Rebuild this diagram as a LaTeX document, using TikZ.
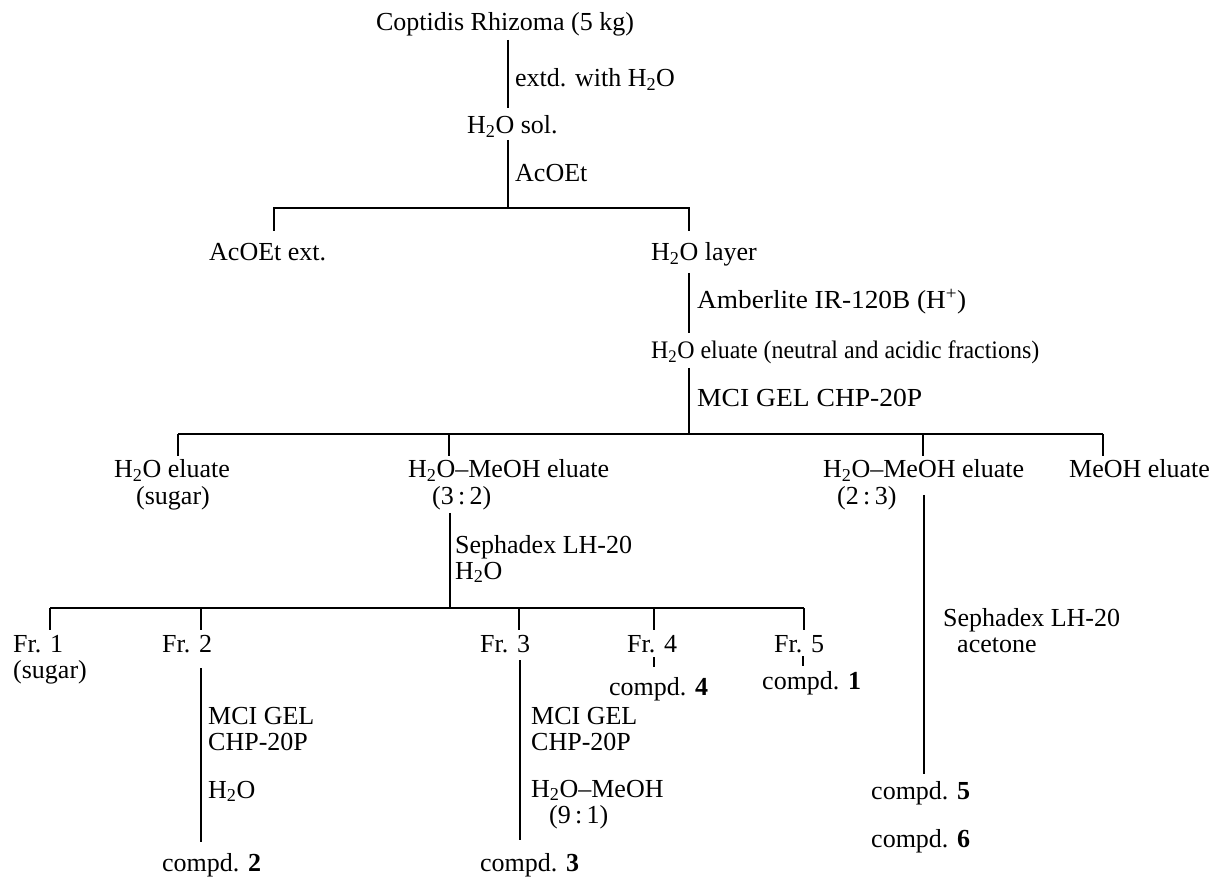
\documentclass[tikz,border=0pt]{standalone}
\usepackage{fontspec}
\setmainfont{Liberation Serif}
\newcommand{\wat}{H\textsubscript{2}O}
\begin{document}
\begin{tikzpicture}[x=1pt,y=-1pt,
  lbl/.style={inner sep=0pt, anchor=base west, font=\fontsize{26}{26}\selectfont},
  clbl/.style={inner sep=0pt, anchor=base, font=\fontsize{26}{26}\selectfont},
  ln/.style={line width=1.1pt}]
\useasboundingbox (0,0) rectangle (1219,882);

% ---- text nodes ----
\node[clbl] (top) at (505,31) {Coptidis Rhizoma (5 kg)};
\node[lbl] (l1) at (515,87) {extd. with \wat};
\node[lbl] (sol) at (467,134) {\wat{} sol.};
\node[lbl] (l2) at (515,182) {AcOEt};
\node[lbl] (acx) at (209,261) {AcOEt ext.};
\node[lbl] (layer) at (651,261) {\wat{} layer};
\node[lbl] (l3) at (697,309) {\scalebox{1.05}[1]{Amberlite IR-120B (H\textsuperscript{+})}};
\node[lbl] (elu) at (651,359) {\scalebox{0.92}[0.97]{\wat{} eluate (neutral and acidic fractions)}};
\node[lbl] (l4) at (697,407) {\scalebox{1.06}[1]{MCI GEL CHP-20P}};

\node[clbl] (e1a) at (172,478) {\wat{} eluate};
\node[clbl] (e1b) at (173,505) {(sugar)};
\node[lbl] (e2a) at (408,478) {\wat{}--MeOH eluate};
\node[lbl] (e2b) at (432,505) {(3\,:\,2)};
\node[lbl] (e3a) at (823,478) {\wat{}--MeOH eluate};
\node[lbl] (e3b) at (837,504) {(2\,:\,3)};
\node[lbl] (e4) at (1069,478) {MeOH eluate};

\node[lbl] (l5a) at (455,553) {Sephadex LH-20};
\node[lbl] (l5b) at (455,579) {\wat};

\node[lbl] (r1a) at (943,626) {Sephadex LH-20};
\node[lbl] (r1b) at (957,652) {acetone};

\node[lbl] (f1a) at (13,652) {Fr. 1};
\node[lbl] (f1b) at (13,678) {(sugar)};
\node[lbl] (f2) at (162,652) {Fr. 2};
\node[lbl] (f3) at (480,652) {Fr. 3};
\node[lbl] (f4) at (627,652) {Fr. 4};
\node[lbl] (f5) at (774,652) {Fr. 5};
\node[lbl] (c4) at (609,695) {compd. \textbf{4}};
\node[lbl] (c1) at (762,689) {compd. \textbf{1}};

\node[lbl] (m2a) at (208,724) {MCI GEL};
\node[lbl] (m2b) at (208,750) {CHP-20P};
\node[lbl] (m2c) at (208,798) {\wat};
\node[lbl] (m3a) at (531,724) {MCI GEL};
\node[lbl] (m3b) at (531,750) {CHP-20P};
\node[lbl] (m3c) at (531,797) {\wat{}--MeOH};
\node[lbl] (m3d) at (549,823) {(9\,:\,1)};

\node[lbl] (c5) at (871,799) {compd. \textbf{5}};
\node[lbl] (c6) at (871,847) {compd. \textbf{6}};
\node[lbl] (c2) at (162,871) {compd. \textbf{2}};
\node[lbl] (c3) at (480,871) {compd. \textbf{3}};

% ---- junction coordinates ----
\coordinate (t0) at (508,40);
\coordinate (t1) at (508,108);
\coordinate (t2) at (508,140);
\coordinate (j1) at (508,208);
\coordinate (j1l) at (274,208);
\coordinate (j1r) at (689,208);
\coordinate (b1l) at (274,231);
\coordinate (b1r) at (689,231);
\coordinate (t3) at (689,273);
\coordinate (t4) at (689,333);
\coordinate (t5) at (689,368);
\coordinate (j2) at (689,434);
\coordinate (j2a) at (178,434);
\coordinate (j2b) at (449,434);
\coordinate (j2c) at (923,434);
\coordinate (j2d) at (1103,434);
\coordinate (t6) at (450,513);
\coordinate (j3) at (450,608);
\coordinate (j3a) at (50,608);
\coordinate (j3b) at (201,608);
\coordinate (j3c) at (519,608);
\coordinate (j3d) at (654,608);
\coordinate (j3e) at (804,608);
\coordinate (s4a) at (654,657);
\coordinate (s4b) at (654,667);
\coordinate (s5a) at (803,656);
\coordinate (s5b) at (803,666);
\coordinate (p2a) at (201,668);
\coordinate (p2b) at (201,842);
\coordinate (p3a) at (520,660);
\coordinate (p3b) at (520,840);
\coordinate (rqa) at (924,495);
\coordinate (rqb) at (924,774);

% ---- connectors ----
\draw[ln] (t0) -- (t1);
\draw[ln] (t2) -- (j1);
\draw[ln] (b1l) -- (j1l) -- (j1r) -- (b1r);
\draw[ln] (t3) -- (t4);
\draw[ln] (t5) -- (j2);
\draw[ln] (j2a) -- (j2d);
\foreach \c in {j2a,j2b,j2c,j2d} \draw[ln] (\c) -- ++(0,22);
\draw[ln] (t6) -- (j3);
\draw[ln] (j3a) -- (j3e);
\foreach \c in {j3a,j3b,j3c,j3d,j3e} \draw[ln] (\c) -- ++(0,22);
\draw[ln] (s4a) -- (s4b);
\draw[ln] (s5a) -- (s5b);
\draw[ln] (p2a) -- (p2b);
\draw[ln] (p3a) -- (p3b);
\draw[ln] (rqa) -- (rqb);
\end{tikzpicture}
\end{document}
